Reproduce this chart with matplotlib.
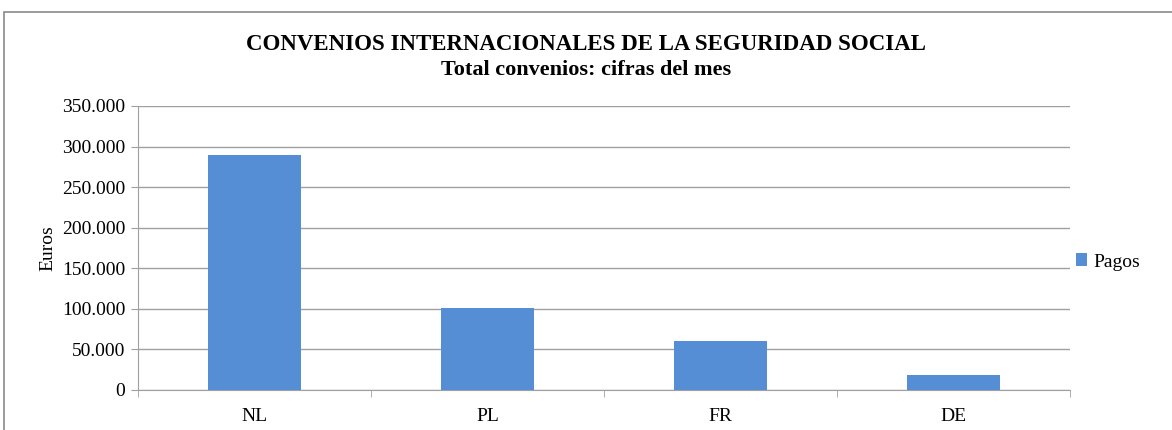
import numpy as np
import matplotlib.pyplot as plt
from matplotlib.ticker import FuncFormatter, FixedLocator
from matplotlib.patches import Rectangle

paises = ['NL', 'PL', 'FR', 'DE']
pagos = [290000, 101000, 60500, 18500]

plt.rcParams['font.family'] = ['Liberation Serif', 'DejaVu Serif']

fig = plt.figure(figsize=(11.72, 4.30), dpi=100)
ax = fig.add_axes([138/1172, 1 - 390/430, 932/1172, 284/430])

x = np.arange(len(paises))
ax.bar(x, pagos, width=0.4, color='#558ed5', label='Pagos', zorder=3)

ax.set_xlim(-0.5, len(paises) - 0.5)
ax.set_ylim(0, 350000)
ax.set_yticks(np.arange(0, 350001, 50000))
ax.yaxis.set_major_formatter(FuncFormatter(lambda v, p: f'{int(v):,}'.replace(',', '.')))
ax.grid(axis='y', color='#a0a0a0', lw=1, zorder=0)

ax.set_xticks(x)
ax.set_xticklabels(paises, fontsize=14)
ax.xaxis.set_minor_locator(FixedLocator(np.arange(-0.5, len(paises), 1)))
ax.tick_params(axis='x', which='major', length=0, pad=13)
ax.tick_params(axis='x', which='minor', length=5, color='#a0a0a0')
ax.tick_params(axis='y', length=5, color='#a0a0a0', labelsize=14, pad=4)

for s in ['top', 'right']:
    ax.spines[s].set_visible(False)
for s in ['left', 'bottom']:
    ax.spines[s].set_color('#a0a0a0')

ax.set_ylabel('Euros', fontsize=14, labelpad=4)

fig.text(0.5, 1 - 44/430, 'CONVENIOS INTERNACIONALES DE LA SEGURIDAD SOCIAL',
         ha='center', va='center', fontsize=16.5, fontweight='bold')
fig.text(0.5, 1 - 70/430, 'Total convenios: cifras del mes',
         ha='center', va='center', fontsize=16, fontweight='bold')

leg = fig.legend(loc='center left', bbox_to_anchor=(1058/1172, 1 - 262/430),
                 frameon=False, fontsize=14, handlelength=0.6, handleheight=0.6,
                 handletextpad=0.3)

fig.patches.append(Rectangle((4/1172, -0.1), 1.1, 1 - 12/430 + 0.1,
                             transform=fig.transFigure, fill=False,
                             edgecolor='#8a8a8a', lw=1.2))

fig.savefig('out.png', dpi=100)
